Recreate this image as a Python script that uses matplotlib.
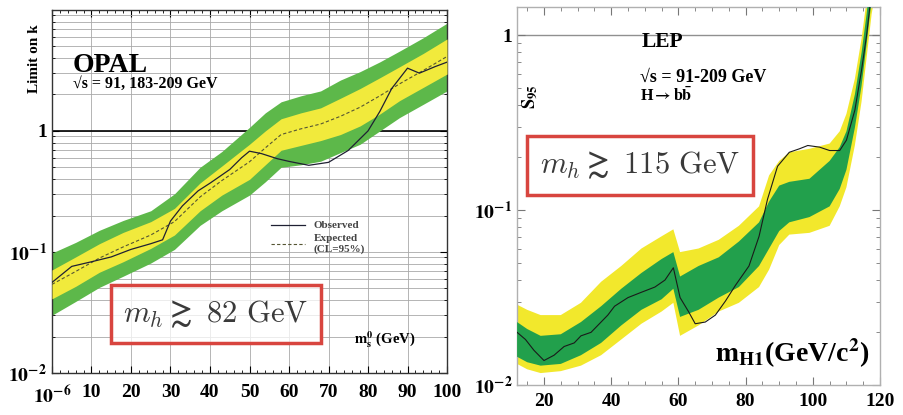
import matplotlib.pyplot as plt
import numpy as np
from matplotlib.patches import Rectangle
from matplotlib.ticker import MultipleLocator, LogLocator, NullFormatter

plt.rcParams['font.family'] = ['Liberation Serif', 'DejaVu Serif']
plt.rcParams['font.weight'] = 'bold'
plt.rcParams['mathtext.fontset'] = 'stix'

# ---- OPAL: limite su k in funzione di m_s0 ----
opal_x = [0, 6, 12, 18, 25, 31, 37.5, 43, 50, 54, 58, 63, 68, 73, 78, 83, 88, 94, 100]
opal_g_top = [0.098, 0.120, 0.151, 0.182, 0.219, 0.302, 0.501, 0.676, 1.07, 1.41, 1.74,
              1.95, 2.14, 2.63, 3.09, 3.72, 4.57, 5.89, 7.76]
opal_y_top = [0.071, 0.091, 0.117, 0.145, 0.178, 0.229, 0.372, 0.513, 0.776, 1.0, 1.26,
              1.41, 1.55, 1.86, 2.24, 2.75, 3.39, 4.37, 5.75]
opal_y_bot = [0.041, 0.052, 0.068, 0.083, 0.107, 0.138, 0.219, 0.295, 0.398, 0.525, 0.692,
              0.759, 0.832, 0.933, 1.10, 1.38, 1.78, 2.29, 2.95]
opal_g_bot = [0.030, 0.039, 0.051, 0.063, 0.081, 0.105, 0.166, 0.219, 0.295, 0.380, 0.501,
              0.525, 0.562, 0.661, 0.776, 1.0, 1.29, 1.66, 2.14]
opal_exp = [0.054, 0.069, 0.089, 0.110, 0.138, 0.178, 0.285, 0.389, 0.556, 0.724, 0.933,
            1.04, 1.14, 1.32, 1.57, 1.95, 2.45, 3.16, 4.12]

opal_obs_x = [0, 5, 10, 15, 20, 25, 28, 30, 33, 37, 40, 45, 48, 50, 53, 57, 60, 65, 70,
              75, 80, 83, 86, 90, 93, 97, 100]
opal_obs = [0.056, 0.076, 0.083, 0.091, 0.105, 0.117, 0.126, 0.18, 0.24, 0.32, 0.37, 0.48,
            0.60, 0.68, 0.65, 0.59, 0.56, 0.52, 0.55, 0.69, 1.0, 1.45, 2.24, 3.3, 3.0, 3.4, 3.7]

opal_xticks = [0, 10, 20, 30, 40, 50, 60, 70, 80, 90, 100]
opal_xlabels = [r'$\mathbf{10}^{\mathbf{-6}}$'] + [str(v) for v in opal_xticks[1:]]

# ---- LEP: S95 in funzione di m_H1 ----
lep_x = [12, 15, 19, 25, 31, 37, 43, 49, 55, 58.5, 60.5, 66, 72, 78, 84, 87, 90, 93, 99,
         105, 108, 110, 112.5, 114.5, 116, 117.5, 119]
lep_y_top = [0.0288, 0.0269, 0.0251, 0.0251, 0.0295, 0.0389, 0.0479, 0.0603, 0.0708, 0.0776,
             0.0575, 0.0603, 0.0676, 0.0813, 0.105, 0.158, 0.191, 0.214, 0.224, 0.240,
             0.282, 0.355, 0.562, 0.955, 1.58, 2.82, 3.98]
lep_g_top = [0.0229, 0.0209, 0.0191, 0.0195, 0.0229, 0.0282, 0.0355, 0.0437, 0.0525, 0.0575,
             0.0417, 0.0479, 0.0537, 0.0661, 0.0851, 0.112, 0.138, 0.145, 0.151, 0.191,
             0.229, 0.282, 0.457, 0.794, 1.32, 2.40, 3.16]
lep_g_bot = [0.0145, 0.0135, 0.0129, 0.0132, 0.0148, 0.0174, 0.0219, 0.0269, 0.0309, 0.0355,
             0.0245, 0.0269, 0.0316, 0.0363, 0.0479, 0.0603, 0.0759, 0.0851, 0.0912, 0.105,
             0.132, 0.170, 0.295, 0.513, 0.891, 1.58, 2.24]
lep_y_bot = [0.0132, 0.0123, 0.0117, 0.0120, 0.0129, 0.0148, 0.0182, 0.0224, 0.0263, 0.0295,
             0.0191, 0.0219, 0.0263, 0.0295, 0.0363, 0.0457, 0.0631, 0.0724, 0.0741, 0.0813,
             0.105, 0.135, 0.234, 0.417, 0.741, 1.32, 1.91]

lep_obs_x = [12, 14.5, 17, 20, 23, 26, 29, 31, 34, 36, 39, 41, 45, 49, 53, 56, 58.5, 60.5,
             63, 65, 68, 71, 74, 77, 81, 84, 86.5, 89.5, 93, 96, 98.5, 102, 105, 108, 110,
             112.5, 114.5, 116, 117.5]
lep_obs = [0.0200, 0.0182, 0.0158, 0.0138, 0.0148, 0.0166, 0.0174, 0.0191, 0.0200, 0.0219,
           0.0251, 0.0282, 0.0316, 0.0339, 0.0363, 0.0398, 0.0468, 0.0316, 0.0263, 0.0224,
           0.0229, 0.0251, 0.0302, 0.0372, 0.0479, 0.0708, 0.115, 0.178, 0.214, 0.224, 0.234,
           0.229, 0.219, 0.219, 0.251, 0.372, 0.631, 1.0, 1.78]

RED = '#d8453f'

fig = plt.figure(figsize=(9.04, 4.15), dpi=100)

# pannello sinistro
ax1 = fig.add_axes([0.0575, 0.1012, 0.437, 0.875])
ax1.set_yscale('log')
ax1.set_xlim(0, 100)
ax1.set_ylim(0.01, 10)
ax1.fill_between(opal_x, opal_g_bot, opal_g_top, color='#5db84a', lw=0, zorder=2)
ax1.fill_between(opal_x, opal_y_bot, opal_y_top, color='#f1ea3c', lw=0, zorder=3)
l_exp, = ax1.plot(opal_x, opal_exp, color='#555533', lw=0.8, ls=(0, (3, 2)), zorder=4)
l_obs, = ax1.plot(opal_obs_x, opal_obs, color='#1f2033', lw=0.9, zorder=5)
ax1.axhline(1, color='black', lw=1.2, zorder=1)
ax1.grid(True, which='both', axis='y', color='#a8a8a8', lw=0.6, zorder=0)
ax1.grid(True, which='major', axis='x', color='#a8a8a8', lw=0.6, zorder=0)
ax1.set_axisbelow(True)
ax1.set_xticks(opal_xticks, opal_xlabels)
ax1.xaxis.set_minor_locator(MultipleLocator(2))
ax1.yaxis.set_minor_locator(LogLocator(base=10, subs=np.arange(2, 10), numticks=20))
ax1.yaxis.set_minor_formatter(NullFormatter())
ax1.set_yticks([0.01, 0.1, 1], [r'$\mathbf{10}^{\mathbf{-2}}$', r'$\mathbf{10}^{\mathbf{-1}}$', '1'])
ax1.tick_params(which='both', direction='in', top=True, right=True, labelsize=14)
ax1.tick_params(axis='x', pad=8)
ax1.tick_params(which='major', length=5)
ax1.tick_params(which='minor', length=2.5)
for s in ax1.spines.values():
    s.set_linewidth(1.0)
    s.set_color('#333333')

ax1.text(0.053, 0.848, 'OPAL', transform=ax1.transAxes, fontsize=20, va='center')
ax1.text(0.053, 0.796, '√s = 91, 183-209 GeV', transform=ax1.transAxes, fontsize=11.5,
         va='center')
fig.text(0.0387, 0.858, 'Limit on k', rotation=90, fontsize=11, ha='center', va='center')
ax1.text(0.843, 0.091, r'$\mathbf{m}_\mathbf{s}^\mathbf{0}$ (GeV)', transform=ax1.transAxes,
         fontsize=10.5, ha='center', va='center')
leg = ax1.legend([l_obs, l_exp], ['Observed', 'Expected\n(CL=95%)'], loc='upper left',
                 bbox_to_anchor=(0.53, 0.447), frameon=False, fontsize=8, handlelength=3.0,
                 labelspacing=0.35, handletextpad=0.8)
for t in leg.get_texts():
    t.set_color('#444444')

ax1.add_patch(Rectangle((0.149, 0.083), 0.532, 0.160, transform=ax1.transAxes,
                        fc='white', alpha=0.75, ec='none', zorder=6))
ax1.add_patch(Rectangle((0.149, 0.083), 0.532, 0.160, transform=ax1.transAxes,
                        fc='none', ec=RED, lw=2.5, zorder=7))
ax1.text(0.415, 0.16, r'$m_h \gtrsim\ 82\ \mathrm{GeV}$', transform=ax1.transAxes,
         fontsize=22, color='#3a3a3a', ha='center', va='center', math_fontfamily='cm',
         zorder=8)

# pannello destro
ax2 = fig.add_axes([0.572, 0.0723, 0.4015, 0.911])
ax2.set_yscale('log')
ax2.set_xlim(12, 120)
ax2.set_ylim(0.01, 1.45)
ax2.fill_between(lep_x, lep_y_bot, lep_y_top, color='#f2e82c', lw=0, zorder=2)
ax2.fill_between(lep_x, lep_g_bot, lep_g_top, color='#22a04c', lw=0, zorder=3)
ax2.plot(lep_obs_x, lep_obs, color='#1a1a1a', lw=0.8, zorder=4)
ax2.axhline(1, color='#909090', lw=1.0, zorder=1)
ax2.xaxis.set_major_locator(MultipleLocator(20))
ax2.xaxis.set_minor_locator(MultipleLocator(5))
ax2.yaxis.set_minor_locator(LogLocator(base=10, subs=np.arange(2, 10), numticks=20))
ax2.yaxis.set_minor_formatter(NullFormatter())
ax2.set_yticks([0.01, 0.1, 1], [r'$\mathbf{10}^{\mathbf{-2}}$', r'$\mathbf{10}^{\mathbf{-1}}$', '1'])
ax2.tick_params(which='both', direction='in', top=True, right=True, labelsize=14,
                color='#777777')
ax2.tick_params(axis='x', pad=6)
ax2.tick_params(which='major', length=6)
ax2.tick_params(which='minor', length=3)
for s in ax2.spines.values():
    s.set_color('#b0b0b0')
    s.set_linewidth(1.0)

ax2.text(0.344, 0.907, 'LEP', transform=ax2.transAxes, fontsize=15.5, va='center')
ax2.text(0.339, 0.815, '√s = 91-209 GeV', transform=ax2.transAxes, fontsize=13,
         va='center')
ax2.text(0.339, 0.765, r'H$\rightarrow$b$\bar{\mathbf{b}}$', transform=ax2.transAxes,
         fontsize=11.5, va='center')
ax2.text(0.036, 0.762, r'$\mathbf{S}_\mathbf{95}$', transform=ax2.transAxes, fontsize=13,
         rotation=90, ha='center', va='center')
ax2.text(0.972, 0.085, r'$\mathbf{m}_\mathbf{H1}$(GeV/c$^\mathbf{2}$)', transform=ax2.transAxes,
         fontsize=20, ha='right', va='center')

ax2.add_patch(Rectangle((0.0275, 0.503), 0.6225, 0.156, transform=ax2.transAxes,
                        fc='white', ec=RED, lw=2.5, zorder=7))
ax2.text(0.339, 0.58, r'$m_h \gtrsim\ 115\ \mathrm{GeV}$', transform=ax2.transAxes,
         fontsize=22, color='#3a3a3a', ha='center', va='center', math_fontfamily='cm',
         zorder=8)

plt.savefig('out.png', dpi=100)
